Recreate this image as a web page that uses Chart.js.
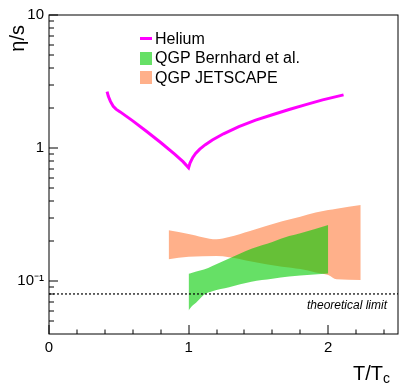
<!DOCTYPE html>
<html lang="en">
<head>
<meta charset="UTF-8">
<title>eta/s vs T/Tc</title>
<script src="https://cdn.jsdelivr.net/npm/chart.js"></script>
<style>
  html, body { margin: 0; padding: 0; background: #fff; }
  canvas { display: block; }
</style>
</head>
<body>
<canvas id="etaChart" width="407" height="383"></canvas>
<script>
  // helium eta/s curve (left branch down to T_c, then rising)
  const heliumT   = [0.416, 0.425, 0.44, 0.46, 0.48, 0.51, 0.6, 0.7, 0.8, 0.9, 0.96, 1.0,
                     1.01, 1.03, 1.05, 1.08, 1.12, 1.17, 1.25, 1.36, 1.48, 1.6, 1.72, 1.84, 1.96, 2.11];
  const heliumEta = [2.66, 2.45, 2.24, 2.06, 1.96, 1.87, 1.6, 1.33, 1.1, 0.9, 0.79, 0.71,
                     0.77, 0.85, 0.91, 0.98, 1.06, 1.15, 1.28, 1.45, 1.62, 1.78, 1.95, 2.12, 2.3, 2.51];

  // QGP band, Bernhard et al.
  const bernhardT     = [1.0, 1.02, 1.055, 1.11, 1.17, 1.29, 1.45, 1.6, 1.72, 1.8, 2.0];
  const bernhardUpper = [0.1135, 0.115, 0.118, 0.122, 0.13, 0.148, 0.175, 0.197, 0.218, 0.229, 0.264];
  const bernhardLower = [0.060, 0.064, 0.069, 0.079, 0.084, 0.090, 0.099, 0.104, 0.108, 0.110, 0.114];

  // QGP band, JETSCAPE
  const jetscapeT     = [0.857, 1.0, 1.2, 1.29, 1.44, 1.67, 1.8, 1.91, 2.0, 2.06, 2.233];
  const jetscapeUpper = [0.241, 0.226, 0.206, 0.214, 0.238, 0.282, 0.305, 0.327, 0.342, 0.35, 0.373];
  const jetscapeLower = [0.146, 0.152, 0.154, 0.151, 0.141, 0.128, 0.123, 0.116, 0.111, 0.103, 0.102];

  // 1/(4 pi)
  const limitT   = [0, 2.5];
  const limitEta = [0.08, 0.08];

  const xTickLabels = [0, 1, 2];
  const xMinorTicks = [0.2, 0.4, 0.6, 0.8, 1.2, 1.4, 1.6, 1.8, 2.2, 2.4];
  const yTickLabels = [0.1, 1, 10];
  const yMinorTicks = [0.05, 0.06, 0.07, 0.08, 0.09, 0.2, 0.3, 0.4, 0.5, 0.6, 0.7, 0.8, 0.9,
                       2, 3, 4, 5, 6, 7, 8, 9];

  const legendLabels = ["Helium", "QGP Bernhard et al.", "QGP JETSCAPE"];

  const heliumColor = "rgb(255, 0, 255)";
  const greenColor = "rgba(0, 204, 0, 0.6)";
  const orangeColor = "rgb(255, 176, 138)";
  const font = "'Liberation Sans', Arial, sans-serif";

  const pts = (xs, ys) => xs.map((x, i) => ({ x: x, y: ys[i] }));

  const rootFrame = {
    id: "rootFrame",
    afterDraw(chart) {
      const ctx = chart.ctx;
      const a = chart.chartArea;
      const xs = chart.scales.x, ys = chart.scales.y;
      ctx.save();
      // frame
      ctx.strokeStyle = "#000";
      ctx.lineWidth = 1;
      ctx.strokeRect(Math.round(a.left), Math.round(a.top),
        Math.round(a.right - a.left), Math.round(a.bottom - a.top));

      // tick marks, pointing inwards
      ctx.beginPath();
      xTickLabels.forEach(v => {
        const px = Math.round(xs.getPixelForValue(v));
        ctx.moveTo(px, a.bottom); ctx.lineTo(px, a.bottom - 9);
      });
      xMinorTicks.forEach(v => {
        const px = Math.round(xs.getPixelForValue(v));
        ctx.moveTo(px, a.bottom); ctx.lineTo(px, a.bottom - 4.5);
      });
      yTickLabels.forEach(v => {
        const py = Math.round(ys.getPixelForValue(v));
        ctx.moveTo(a.left, py); ctx.lineTo(a.left + 9, py);
      });
      yMinorTicks.forEach(v => {
        const py = Math.round(ys.getPixelForValue(v));
        ctx.moveTo(a.left, py); ctx.lineTo(a.left + 5, py);
      });
      ctx.stroke();

      // axis titles
      ctx.fillStyle = "#000";
      ctx.font = "20px " + font;
      ctx.textBaseline = "alphabetic";
      ctx.textAlign = "right";
      ctx.fillText("T/T", 383, 380);
      ctx.font = "14px " + font;
      ctx.textAlign = "left";
      ctx.fillText("c", 383, 383);

      ctx.save();
      ctx.translate(24, 25);
      ctx.rotate(-Math.PI / 2);
      ctx.font = "20px " + font;
      ctx.textAlign = "right";
      ctx.fillText("\u03b7/s", 0, 0);
      ctx.restore();

      // theoretical limit label
      ctx.font = "italic 12px " + font;
      ctx.textAlign = "right";
      ctx.fillText("theoretical limit", 387, ys.getPixelForValue(limitEta[0]) + 15);

      // legend
      ctx.font = "16px " + font;
      ctx.textAlign = "left";
      ctx.fillText(legendLabels[0], 155, 43.5);
      ctx.fillText(legendLabels[1], 155, 63);
      ctx.fillText(legendLabels[2], 155, 82.5);
      ctx.strokeStyle = heliumColor;
      ctx.lineWidth = 3;
      ctx.beginPath();
      ctx.moveTo(140, 38.5); ctx.lineTo(152, 38.5);
      ctx.stroke();
      ctx.fillStyle = greenColor;
      ctx.fillRect(140, 52, 12, 13);
      ctx.fillStyle = orangeColor;
      ctx.fillRect(140, 71, 12, 13);
      ctx.restore();
    }
  };

  const band = { borderWidth: 0, pointRadius: 0, cubicInterpolationMode: "monotone" };

  const chart = new Chart(document.getElementById("etaChart"), {
    type: "line",
    data: {
      datasets: [
        {
          label: "Helium",
          data: pts(heliumT, heliumEta),
          borderColor: heliumColor,
          borderWidth: 3,
          pointRadius: 0,
          tension: 0,
          fill: false,
          order: 0
        },
        {
          label: "theoretical limit",
          data: pts(limitT, limitEta),
          borderColor: "#000",
          borderWidth: 1.2,
          borderDash: [2, 2],
          pointRadius: 0,
          fill: false,
          order: 1
        },
        Object.assign({
          label: "QGP Bernhard et al.",
          data: pts(bernhardT, bernhardUpper),
          backgroundColor: greenColor,
          fill: "+1",
          order: 2
        }, band),
        Object.assign({
          label: "Bernhard lower",
          data: pts(bernhardT, bernhardLower),
          fill: false,
          order: 2
        }, band),
        Object.assign({
          label: "QGP JETSCAPE",
          data: pts(jetscapeT, jetscapeUpper),
          backgroundColor: orangeColor,
          fill: "+1",
          order: 3
        }, band),
        Object.assign({
          label: "JETSCAPE lower",
          data: pts(jetscapeT, jetscapeLower),
          fill: false,
          order: 3
        }, band)
      ]
    },
    options: {
      responsive: false,
      animation: false,
      events: [],
      layout: { padding: { top: 15, right: 9, left: 0, bottom: 0 } },
      plugins: {
        legend: { display: false },
        tooltip: { enabled: false }
      },
      scales: {
        x: {
          type: "linear",
          min: 0,
          max: 2.5,
          grid: { display: false, drawTicks: false },
          border: { display: false },
          afterBuildTicks: s => { s.ticks = xTickLabels.map(v => ({ value: v })); },
          afterFit: s => { s.height = 49; },
          ticks: {
            autoSkip: false,
            maxRotation: 0,
            padding: 5,
            color: "#000",
            font: { family: font, size: 15 },
            callback: v => String(v)
          }
        },
        y: {
          type: "logarithmic",
          min: 0.04,
          max: 10,
          grid: { display: false, drawTicks: false },
          border: { display: false },
          afterBuildTicks: s => { s.ticks = yTickLabels.map(v => ({ value: v, major: true })); },
          afterFit: s => { s.width = 49; },
          ticks: {
            autoSkip: false,
            padding: 5,
            color: "#000",
            font: { family: font, size: 15 },
            callback: v => (v === 10 ? "10" : v === 1 ? "1" : "10\u207b\u00b9")
          }
        }
      }
    },
    plugins: [rootFrame]
  });
</script>
</body>
</html>
